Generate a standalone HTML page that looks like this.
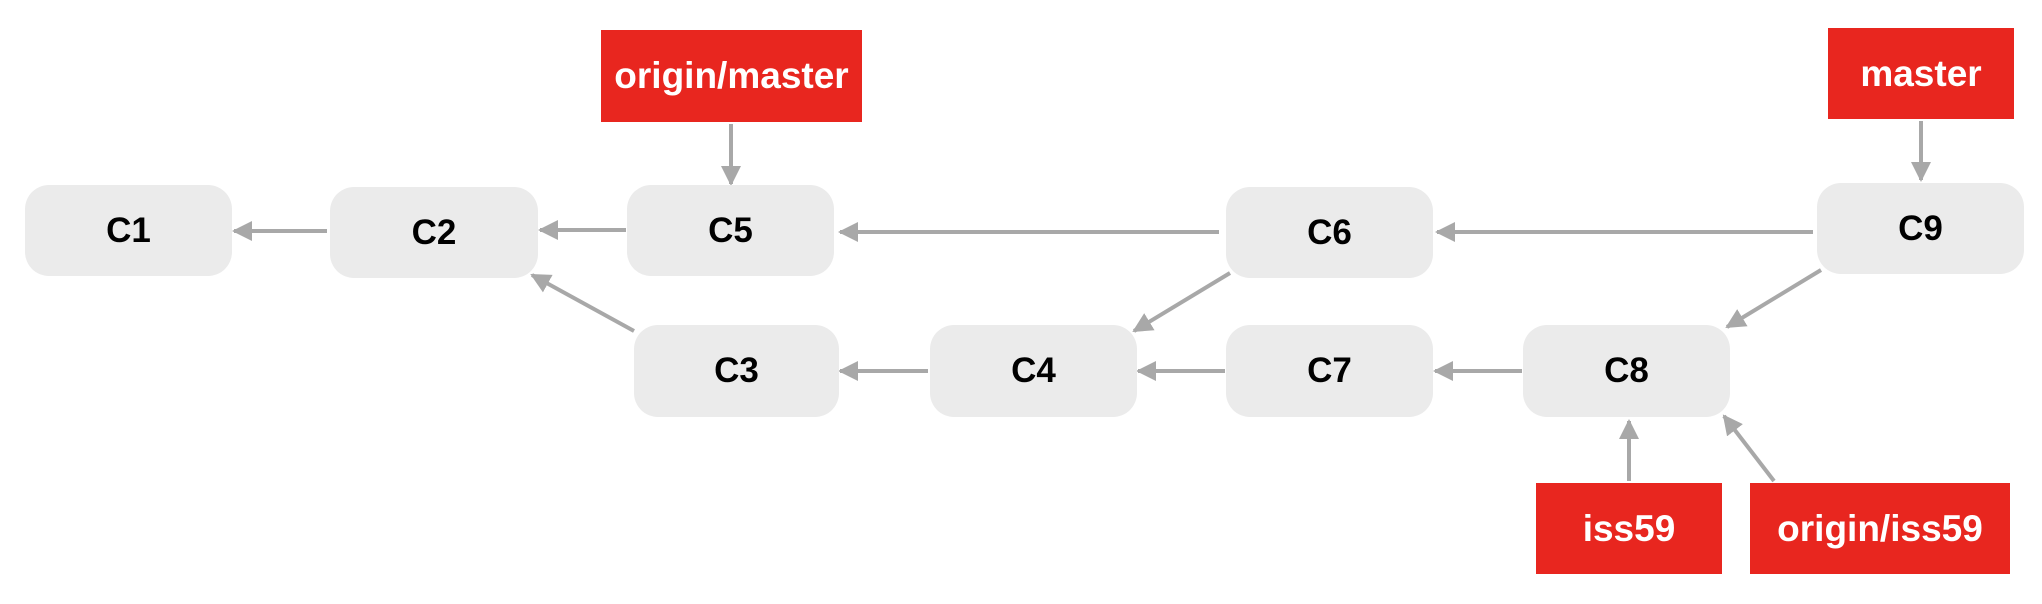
<!DOCTYPE html>
<html><head><meta charset="utf-8"><style>
html,body{margin:0;padding:0;background:#fff;}
body{width:2042px;height:604px;position:relative;overflow:hidden;font-family:"Liberation Sans",Arial,sans-serif;}
.n{position:absolute;background:#ebebeb;border-radius:24px;display:flex;align-items:center;justify-content:center;font-size:35px;font-weight:bold;color:#000;}
.r{position:absolute;background:#e8261f;display:flex;align-items:center;justify-content:center;font-size:37px;font-weight:bold;color:#fff;}
svg{position:absolute;left:0;top:0;}
</style></head><body>
<svg width="2042" height="604">
<defs><marker id="a" markerWidth="5" markerHeight="5" refX="4.5" refY="2.5" orient="auto" markerUnits="strokeWidth"><path d="M0,0 L5,2.5 L0,5 Z" fill="#a8a8a8"/></marker></defs>
<g stroke="#a8a8a8" stroke-width="4" fill="none" marker-end="url(#a)">
<line x1="327" y1="231" x2="234" y2="231"/>
<line x1="626" y1="230" x2="540" y2="230"/>
<line x1="1219" y1="232" x2="840" y2="232"/>
<line x1="1813" y1="232" x2="1437" y2="232"/>
<line x1="634" y1="331" x2="532" y2="275"/>
<line x1="928" y1="371" x2="840" y2="371"/>
<line x1="1225" y1="371" x2="1138" y2="371"/>
<line x1="1522" y1="371" x2="1435" y2="371"/>
<line x1="1230" y1="273" x2="1134" y2="331"/>
<line x1="1821" y1="270" x2="1727" y2="327"/>
<line x1="731" y1="124" x2="731" y2="184"/>
<line x1="1921" y1="121" x2="1921" y2="180"/>
<line x1="1629" y1="481" x2="1629" y2="421"/>
<line x1="1774" y1="481" x2="1724" y2="416"/>
</g>
</svg>
<div class="n" style="left:25px;top:185px;width:207px;height:91px">C1</div>
<div class="n" style="left:330px;top:187px;width:208px;height:91px">C2</div>
<div class="n" style="left:627px;top:185px;width:207px;height:91px">C5</div>
<div class="n" style="left:1226px;top:187px;width:207px;height:91px">C6</div>
<div class="n" style="left:1817px;top:183px;width:207px;height:91px">C9</div>
<div class="n" style="left:634px;top:325px;width:205px;height:92px">C3</div>
<div class="n" style="left:930px;top:325px;width:207px;height:92px">C4</div>
<div class="n" style="left:1226px;top:325px;width:207px;height:92px">C7</div>
<div class="n" style="left:1523px;top:325px;width:207px;height:92px">C8</div>
<div class="r" style="left:601px;top:30px;width:261px;height:92px">origin/master</div>
<div class="r" style="left:1828px;top:28px;width:186px;height:91px">master</div>
<div class="r" style="left:1536px;top:483px;width:186px;height:91px">iss59</div>
<div class="r" style="left:1750px;top:483px;width:260px;height:91px">origin/iss59</div>
</body></html>
